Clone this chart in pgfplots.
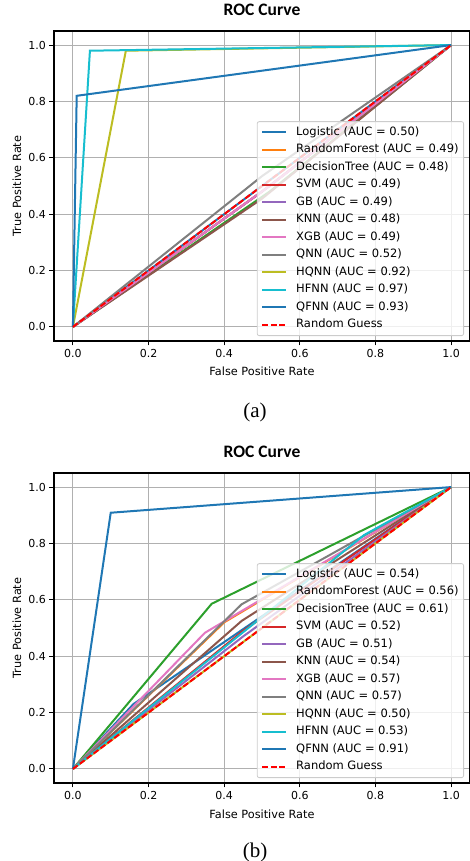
\documentclass[border=0pt]{standalone}
\usepackage{fontspec}
\setmainfont{DejaVu Sans}
\newfontfamily\titlefont{Carlito}
\newfontfamily\capfont{Liberation Serif}
\usepackage{pgfplots}
\pgfplotsset{compat=1.18}

\definecolor{tabblue}{HTML}{1F77B4}
\definecolor{taborange}{HTML}{FF7F0E}
\definecolor{tabgreen}{HTML}{2CA02C}
\definecolor{tabred}{HTML}{D62728}
\definecolor{tabpurple}{HTML}{9467BD}
\definecolor{tabbrown}{HTML}{8C564B}
\definecolor{tabpink}{HTML}{E377C2}
\definecolor{tabgray}{HTML}{7F7F7F}
\definecolor{tabolive}{HTML}{BCBD22}
\definecolor{tabcyan}{HTML}{17BECF}
\definecolor{gridgray}{HTML}{B0B0B0}

\pgfplotsset{
  roc/.style={
    width=416pt, height=310pt, scale only axis,
    xmin=-0.05, xmax=1.05, ymin=-0.05, ymax=1.05,
    xtick={0,0.2,0.4,0.6,0.8,1.0}, ytick={0,0.2,0.4,0.6,0.8,1.0},
    xticklabels={0.0,0.2,0.4,0.6,0.8,1.0},
    yticklabels={0.0,0.2,0.4,0.6,0.8,1.0},
    /pgf/number format/assume math mode=true,
    tick label style={font=\fontsize{11}{13}\selectfont},
    xtick pos=bottom, ytick pos=left,
    tick align=outside, major tick length=4.5pt,
    tick style={black, line width=1pt},
    axis line style={black, line width=1.1pt},
    grid=major, grid style={gridgray, line width=1pt},
    title={ROC Curve},
    title style={font=\titlefont\bfseries\fontsize{17.5}{20}\selectfont, anchor=base, yshift=9pt},
    xlabel={False Positive Rate},
    ylabel={True Positive Rate},
    label style={font=\fontsize{11.3}{13}\selectfont},
    xlabel style={at={(axis description cs:0.5,0)}, anchor=base, yshift=-35pt},
    ylabel style={at={(axis description cs:-0.0793,0.5)}, anchor=base},
    every axis plot/.append style={line width=2pt, no marks},
    legend cell align=left,
    legend image code/.code={\draw[#1, line width=2pt] (0pt,0pt) -- (24pt,0pt);},
    legend style={
      at={(axis description cs:0.9856,0.016)}, anchor=south east,
      draw=black!20, line width=0.8pt, rounded corners=2pt,
      fill=white, fill opacity=0.8, text opacity=1,
      font=\fontsize{11.5}{13}\selectfont,
      inner xsep=4pt, inner ysep=2pt, row sep=0pt,
      nodes={inner xsep=1pt, inner ysep=3.15pt, text height=8.7pt, text depth=2.5pt},
      /tikz/every odd column/.append style={column sep=8pt},
    },
  },
  rand/.style={red, dash pattern=on 6pt off 2.6pt, line width=2pt},
}

\begin{document}
\begin{tikzpicture}
\useasboundingbox (0pt,0pt) rectangle (469pt,861pt);

% (a)
\begin{axis}[roc, at={(54pt,520pt)}, anchor=south west]
\addplot[tabblue] coordinates {(0,0)(1,1)};
\addlegendentry{Logistic (AUC = 0.50)}
\addplot[taborange] coordinates {(0,0)(0.52,0.50)(1,1)};
\addlegendentry{RandomForest (AUC = 0.49)}
\addplot[tabgreen] coordinates {(0,0)(0.52,0.48)(1,1)};
\addlegendentry{DecisionTree (AUC = 0.48)}
\addplot[tabred] coordinates {(0,0)(0.50,0.48)(1,1)};
\addlegendentry{SVM (AUC = 0.49)}
\addplot[tabpurple] coordinates {(0,0)(0.51,0.49)(1,1)};
\addlegendentry{GB (AUC = 0.49)}
\addplot[tabbrown] coordinates {(0,0)(0.50,0.455)(1,1)};
\addlegendentry{KNN (AUC = 0.48)}
\addplot[tabpink] coordinates {(0,0)(0.52,0.50)(1,1)};
\addlegendentry{XGB (AUC = 0.49)}
\addplot[tabgray] coordinates {(0,0)(0.50,0.535)(1,1)};
\addlegendentry{QNN (AUC = 0.52)}
\addplot[tabolive] coordinates {(0,0)(0.14,0.98)(1,1)};
\addlegendentry{HQNN (AUC = 0.92)}
\addplot[tabcyan] coordinates {(0,0)(0.045,0.98)(1,1)};
\addlegendentry{HFNN (AUC = 0.97)}
\addplot[tabblue] coordinates {(0,0)(0.01,0.82)(1,1)};
\addlegendentry{QFNN (AUC = 0.93)}
\addplot[rand] coordinates {(0,0)(1,1)};
\addlegendentry{Random Guess}
\end{axis}

% (b)
\begin{axis}[roc, at={(54pt,78pt)}, anchor=south west]
\addplot[tabblue] coordinates {(0,0)(0.16,0.23)(1,1)};
\addlegendentry{Logistic (AUC = 0.54)}
\addplot[taborange] coordinates {(0,0)(0.40,0.52)(1,1)};
\addlegendentry{RandomForest (AUC = 0.56)}
\addplot[tabgreen] coordinates {(0,0)(0.367,0.586)(1,1)};
\addlegendentry{DecisionTree (AUC = 0.61)}
\addplot[tabred] coordinates {(0,0)(0.45,0.49)(1,1)};
\addlegendentry{SVM (AUC = 0.52)}
\addplot[tabpurple] coordinates {(0,0)(0.45,0.47)(1,1)};
\addlegendentry{GB (AUC = 0.51)}
\addplot[tabbrown] coordinates {(0,0)(0.446,0.525)(1,1)};
\addlegendentry{KNN (AUC = 0.54)}
\addplot[tabpink] coordinates {(0,0)(0.349,0.483)(1,1)};
\addlegendentry{XGB (AUC = 0.57)}
\addplot[tabgray] coordinates {(0,0)(0.446,0.584)(1,1)};
\addlegendentry{QNN (AUC = 0.57)}
\addplot[tabolive] coordinates {(0,0)(1,1)};
\addlegendentry{HQNN (AUC = 0.50)}
\addplot[tabcyan] coordinates {(0,0)(0.77,0.83)(1,1)};
\addlegendentry{HFNN (AUC = 0.53)}
\addplot[tabblue] coordinates {(0,0)(0.10,0.909)(1,1)};
\addlegendentry{QFNN (AUC = 0.91)}
\addplot[rand] coordinates {(0,0)(1,1)};
\addlegendentry{Random Guess}
\end{axis}

\node[font=\capfont\fontsize{21}{24}\selectfont] at (255pt,449pt) {(a)};
\node[font=\capfont\fontsize{21}{24}\selectfont] at (255pt,9pt) {(b)};
\end{tikzpicture}
\end{document}
